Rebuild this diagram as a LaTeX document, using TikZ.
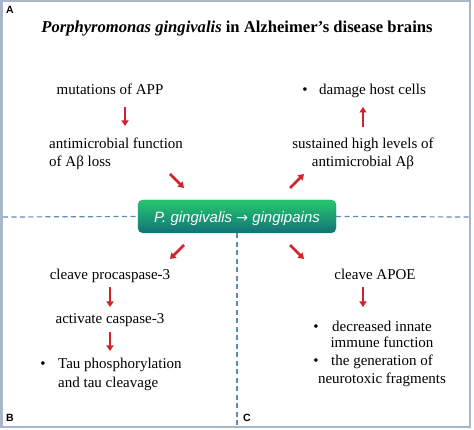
\documentclass[tikz,border=0pt]{standalone}
\usepackage{fontspec}
\setmainfont{Liberation Serif}
\newfontfamily\lsans{Liberation Sans}
\newfontfamily\djsans{DejaVu Sans}
\usetikzlibrary{arrows.meta}
\definecolor{framec}{HTML}{A9B5C9}
\definecolor{dashc}{HTML}{5A8BBF}
\definecolor{arrowc}{HTML}{D0232B}
\definecolor{boxtop}{HTML}{26C86E}
\definecolor{boxbot}{HTML}{127279}
\tikzset{
  txt/.style={inner sep=0pt, font=\fontsize{15}{18}\selectfont},
  panel/.style={inner sep=0pt, font=\lsans\bfseries\fontsize{10.5}{12}\selectfont},
  redarrow/.style={draw=arrowc, line width=2.8pt, -{Triangle[width=7pt,length=5.5pt]}},
  divider/.style={draw=dashc, line width=1.2pt, dash pattern=on 5pt off 3.5pt},
}
\begin{document}
\begin{tikzpicture}[x=1pt,y=-1pt]
\useasboundingbox (0,0) rectangle (474,430);
\draw[framec, line width=2.5pt] (1.5,1.2) rectangle (469.8,427.2);
% panel letters
\node[panel] (la) at (10,10) {A};
\node[panel] (lb) at (10,418) {B};
\node[panel] (lc) at (247,418) {C};
% title
\node[inner sep=0pt, anchor=base, font=\bfseries\fontsize{16.6}{20}\selectfont] (title) at (237,33) {\textit{Porphyromonas gingivalis} in Alzheimer’s disease brains};
% centre box
\node[rounded corners=5pt, top color=boxtop, bottom color=boxbot, draw=boxbot!70!boxtop, line width=0.4pt,
  minimum width=198pt, minimum height=33pt, inner sep=0pt] (box) at (237,216.5) {};
\node[inner sep=0pt, anchor=base, text=white, font=\lsans\itshape\fontsize{15}{18}\selectfont] (boxtext) at (237,223) {P. gingivalis {\djsans\upshape\fontsize{14}{18}\selectfont →} gingipains};
% dashed dividers
\coordinate (hl) at (3,217);
\coordinate (hr) at (469,217);
\coordinate (vb) at (237,426);
\draw[divider] (hl) -- (box.west);
\draw[divider] (box.east) -- (hr);
\draw[divider] (box.south) -- (vb);
% top-left
\node[txt, anchor=base] (mut) at (110,95) {mutations of APP};
\node[txt, anchor=base west] (anti1) at (49,149) {antimicrobial function};
\node[txt, anchor=base west] (anti2) at (49,166.5) {of Aβ loss};
\coordinate (a1s) at (125,107); \coordinate (a1e) at (125,126);
\draw[redarrow] (a1s) -- (a1e);
\coordinate (d1s) at (170,174); \coordinate (d1e) at (184,188);
\draw[redarrow] (d1s) -- (d1e);
% top-right
\node[txt, anchor=base] (b1) at (305,95) {•};
\node[txt, anchor=base west] (dmg) at (319,95) {damage host cells};
\node[txt, anchor=base] (sus1) at (363,149) {sustained high levels of};
\node[txt, anchor=base] (sus2) at (363,166.5) {antimicrobial Aβ};
\coordinate (a2s) at (363,127); \coordinate (a2e) at (363,107);
\draw[redarrow] (a2s) -- (a2e);
\coordinate (d2s) at (290,188); \coordinate (d2e) at (304,174);
\draw[redarrow] (d2s) -- (d2e);
% bottom-left
\coordinate (d3s) at (184,245); \coordinate (d3e) at (170,259);
\draw[redarrow] (d3s) -- (d3e);
\node[txt, anchor=base] (cp) at (110,280) {cleave procaspase-3};
\coordinate (a3s) at (110,287); \coordinate (a3e) at (110,307);
\draw[redarrow] (a3s) -- (a3e);
\node[txt, anchor=base] (ac) at (110,324) {activate caspase-3};
\coordinate (a4s) at (110,332); \coordinate (a4e) at (110,351);
\draw[redarrow] (a4s) -- (a4e);
\node[txt, anchor=base] (b2) at (43,369) {•};
\node[txt, anchor=base west] (tau1) at (58,369) {Tau phosphorylation};
\node[txt, anchor=base west] (tau2) at (58,387) {and tau cleavage};
% bottom-right
\coordinate (d4s) at (290,245); \coordinate (d4e) at (304,259);
\draw[redarrow] (d4s) -- (d4e);
\node[txt, anchor=base] (apoe) at (375,280) {cleave APOE};
\coordinate (a5s) at (363,287); \coordinate (a5e) at (363,307);
\draw[redarrow] (a5s) -- (a5e);
\node[txt, anchor=base] (b3) at (316,331) {•};
\node[txt, anchor=base] (dec1) at (382,331) {decreased innate};
\node[txt, anchor=base] (dec2) at (382,348) {immune function};
\node[txt, anchor=base] (b4) at (316,366) {•};
\node[txt, anchor=base] (gen1) at (382,366) {the generation of};
\node[txt, anchor=base] (gen2) at (382,383) {neurotoxic fragments};
\end{tikzpicture}
\end{document}
